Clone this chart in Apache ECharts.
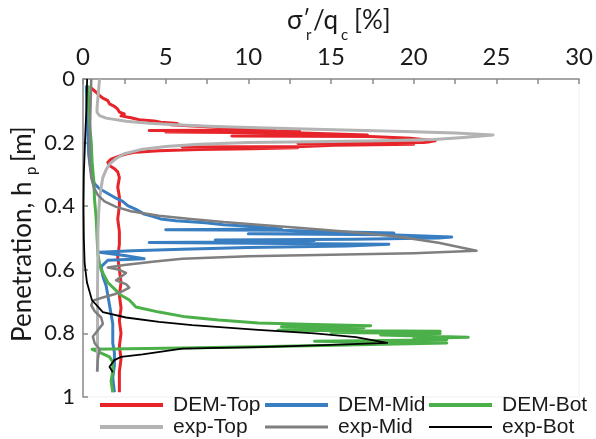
<!DOCTYPE html>
<html>
<head>
<meta charset="utf-8">
<script src="https://cdn.jsdelivr.net/npm/echarts@6/dist/echarts.min.js"></script>
<style>
  html, body { margin: 0; padding: 0; background: #ffffff; }
  #chart { width: 596px; height: 439px; }
</style>
</head>
<body>
<div id="chart"></div>
<script>
// Radial stress ratio profiles along penetration depth.
// Each point: [sigma_r' / q_c in %, penetration h_p in m]
const demTop = [
  [0.42,0.024],[0.6,0.033],[0.8,0.042],[1.0,0.052],[1.2,0.06],[1.5,0.068],[1.6,0.078],[1.9,0.086],
  [2.1,0.095],[2.2,0.104],[2.5,0.11],[2.3,0.116],[2.9,0.122],[3.4,0.128],[4.3,0.132],[4.7,0.136],
  [5.7,0.14],[5.3,0.144],[6.6,0.148],[8.2,0.152],[10.7,0.156],[11.6,0.16],[4.0,0.162],[13.1,0.164],
  [5.0,0.167],[13.3,0.17],[17.2,0.176],[9.0,0.179],[17.4,0.181],[19.8,0.186],[21.3,0.194],[21.0,0.197],
  [20.6,0.2],[13.0,0.203],[20.0,0.205],[15.2,0.208],[13.3,0.212],[6.0,0.214],[13.0,0.216],[10.2,0.219],
  [7.0,0.222],[4.6,0.226],[3.2,0.23],[2.6,0.236],[2.1,0.244],[1.7,0.252],
  [1.5,0.262],[1.6,0.272],[1.9,0.282],[2.1,0.292],[2.2,0.31],[2.1,0.34],[2.2,0.37],[2.2,0.4],
  [2.1,0.44],[2.2,0.48],[2.2,0.52],[2.1,0.56],[2.2,0.6],[2.3,0.64],[2.2,0.68],[2.3,0.72],
  [2.2,0.76],[2.3,0.8],[2.2,0.84],[2.3,0.88],[2.2,0.92],[2.2,0.96],[2.2,0.985]
];
const demMid = [
  [0.2,0.02],[0.25,0.1],[0.3,0.18],[0.35,0.24],[0.45,0.28],[0.55,0.31],[0.7,0.33],[1.0,0.345],
  [1.5,0.36],[1.9,0.372],[2.4,0.385],[2.7,0.398],[3.2,0.41],[3.7,0.425],[4.2,0.432],[4.7,0.44],
  [5.6,0.446],[7.4,0.452],[8.5,0.458],[10.6,0.465],[12.0,0.472],[5.0,0.474],[12.0,0.476],[15.0,0.48],
  [18.8,0.484],[10.0,0.487],[18.5,0.49],[22.3,0.497],[21.5,0.5],[16.4,0.504],[8.0,0.506],[14.0,0.508],
  [12.0,0.512],[4.0,0.514],[18.5,0.52],[16.0,0.525],[10.0,0.53],[6.0,0.535],[3.0,0.54],[1.0,0.545],
  [0.9,0.55],[2.5,0.555],[3.7,0.565],[1.5,0.57],
  [1.1,0.59],[1.2,0.62],[1.4,0.65],[1.5,0.68],[1.6,0.71],[1.7,0.74],[1.8,0.77],[1.8,0.8],
  [1.8,0.83],[1.9,0.86],[1.9,0.9],[1.8,0.94],[1.9,0.985]
];
const demBot = [
  [0.3,0.02],[0.35,0.08],[0.4,0.14],[0.5,0.2],[0.55,0.26],[0.65,0.32],[0.7,0.38],[0.8,0.44],
  [0.85,0.5],[0.9,0.55],[1.0,0.58],[1.1,0.6],[1.3,0.62],[1.5,0.64],[1.9,0.66],[2.3,0.68],
  [2.8,0.695],[3.2,0.717],[4.6,0.733],[6.2,0.748],[8.2,0.758],[10.6,0.767],[14.0,0.772],[17.4,0.776],
  [12.0,0.779],[17.0,0.782],[11.8,0.79],[21.6,0.793],[15.0,0.797],[21.6,0.8],[18.0,0.805],[23.3,0.812],
  [20.0,0.816],[22.0,0.82],[14.0,0.825],[22.0,0.83],[10.6,0.842],[6.0,0.846],[0.55,0.85],[1.0,0.86],
  [1.6,0.874],[1.8,0.89],[1.8,0.92],[1.7,0.95],[1.8,0.985]
];
const expTop = [
  [1.0,0.0],[0.95,0.03],[0.9,0.06],[0.85,0.09],[0.85,0.105],[1.0,0.115],[1.4,0.123],[2.6,0.133],
  [4.0,0.139],[5.6,0.144],[8.0,0.149],[10.6,0.153],[14.0,0.158],[17.0,0.162],[20.0,0.166],[22.5,0.17],
  [24.8,0.176],[23.0,0.184],[21.2,0.19],[18.0,0.194],[14.0,0.197],[10.0,0.2],[7.0,0.205],[5.0,0.212],
  [3.5,0.222],[2.5,0.235],[2.0,0.25],[1.6,0.268],[1.4,0.285],[1.2,0.31],[1.1,0.34],[1.0,0.38],
  [0.95,0.42],[0.9,0.48],[0.9,0.55],[0.88,0.65],[0.88,0.75],[0.88,0.85],[0.88,0.92]
];
const expMid = [
  [0.5,0.0],[0.45,0.1],[0.4,0.2],[0.42,0.27],[0.5,0.31],[0.65,0.34],[0.9,0.365],[1.3,0.385],
  [2.0,0.402],[2.9,0.416],[4.6,0.43],[6.5,0.44],[8.5,0.45],[10.6,0.458],[13.0,0.468],[16.0,0.48],
  [19.0,0.495],[21.5,0.515],[23.8,0.54],[20.0,0.548],[15.0,0.553],[10.0,0.557],[6.0,0.565],[4.2,0.575],
  [2.5,0.585],[1.5,0.593],[2.2,0.6],[2.6,0.61],[2.3,0.622],[2.0,0.633],[2.6,0.645],[2.8,0.656],
  [2.4,0.667],[1.9,0.677],[1.2,0.687],[0.6,0.697],[0.5,0.712],[0.7,0.73],[1.1,0.75],[1.2,0.77],
  [0.9,0.79],[0.6,0.81],[0.7,0.83],[1.0,0.85],[0.9,0.88],[0.85,0.92]
];
const expBot = [
  [0.25,0.0],[0.2,0.1],[0.12,0.2],[0.05,0.3],[0.03,0.4],[0.05,0.5],[0.1,0.58],[0.24,0.64],
  [0.54,0.695],[1.2,0.733],[2.6,0.75],[4.6,0.764],[6.6,0.774],[10.6,0.789],[14.0,0.8],[16.5,0.812],
  [18.4,0.83],[15.0,0.836],[10.6,0.843],[6.0,0.848],[3.6,0.866],[2.3,0.874],[1.9,0.884],[1.6,0.905],
  [1.8,0.922]
];

const seriesNames = ['DEM-Top', 'DEM-Mid', 'DEM-Bot', 'exp-Top', 'exp-Mid', 'exp-Bot'];
const seriesData = [demTop, demMid, demBot, expTop, expMid, expBot];
const seriesColors = ['#e8242b', '#3a7ec2', '#4cb04a', '#b3b3b3', '#7f7f7f', '#000000'];
const seriesWidths = [3, 3, 3, 3, 2.5, 1.8];

// axis ranges: ratio on top (0-30 %), depth downward (0-1 m)
const ratioRange = [0, 30, 5];
const depthRange = [0, 1, 0.2];

const axisGrey = '#8a8a8a';
const chart = echarts.init(document.getElementById('chart'), null, { renderer: 'canvas' });

const series = seriesNames.map((name, i) => ({
  name,
  type: 'line',
  data: seriesData[i],
  showSymbol: false,
  symbol: 'none',
  clip: true,
  animation: false,
  lineStyle: { color: seriesColors[i], width: seriesWidths[i], join: 'round' },
  itemStyle: { color: seriesColors[i] },
  z: 2 + i
}));

// legend: two rows of three, one legend box per entry so each swatch keeps its own thickness
const legendLefts = [100, 265, 429];
const legendRows = [394, 416];
const swatchHeights = [4, 4, 4, 4, 3, 2];
const legends = seriesNames.map((name, i) => ({
  left: legendLefts[i % 3],
  top: legendRows[Math.floor(i / 3)],
  padding: 0,
  itemWidth: 63,
  itemHeight: swatchHeights[i],
  icon: 'rect',
  selectedMode: false,
  textStyle: { fontFamily: 'Liberation Sans', fontSize: 21, lineHeight: 22, color: '#1a1a1a', padding: [0, 0, 0, 5] },
  data: [{ name }]
}));

const labelFont = 'Lato';
chart.setOption({
  animation: false,
  backgroundColor: '#ffffff',
  grid: {
    left: 83, top: 79, width: 500, height: 318,
    show: true, borderColor: '#efefef', borderWidth: 1, backgroundColor: 'transparent'
  },
  legend: legends,
  xAxis: {
    type: 'value', position: 'top',
    min: ratioRange[0], max: ratioRange[1], interval: ratioRange[2],
    axisLine: { show: true, lineStyle: { color: axisGrey, width: 1.5 } },
    axisTick: { show: true, inside: true, length: 5, lineStyle: { color: axisGrey, width: 1.5 } },
    minorTick: { show: true, splitNumber: 2, length: 5, lineStyle: { color: axisGrey, width: 1.5 } },
    splitLine: { show: false },
    axisLabel: { fontFamily: labelFont, fontSize: 24, color: '#1a1a1a', margin: 10 }
  },
  yAxis: {
    type: 'value', inverse: true,
    min: depthRange[0], max: depthRange[1], interval: depthRange[2],
    axisLine: { show: true, lineStyle: { color: axisGrey, width: 1.5 } },
    axisTick: { show: true, inside: true, length: 5, lineStyle: { color: axisGrey, width: 1.5 } },
    splitLine: { show: false },
    axisLabel: { fontFamily: labelFont, fontSize: 22, color: '#1a1a1a', margin: 8 }
  },
  graphic: [
    // top axis title: sigma'_r / q_c [%]
    { type: 'text', left: 287, top: 8, style: { text: 'σ', font: '26px Lato', fill: '#1a1a1a' } },
    { type: 'text', left: 303, top: 7, style: { text: '′', font: '22px Lato', fill: '#1a1a1a' } },
    { type: 'text', left: 306, top: 28, style: { text: 'r', font: '15px Lato', fill: '#1a1a1a' } },
    { type: 'text', left: 313, top: 8, style: { text: '/q', font: '26px Lato', fill: '#1a1a1a' } },
    { type: 'text', left: 341, top: 28, style: { text: 'c', font: '15px Lato', fill: '#1a1a1a' } },
    { type: 'text', left: 354, top: 8, style: { text: '[%]', font: '26px Lato', fill: '#1a1a1a' } },
    // left axis title: Penetration, h_p [m]
    {
      type: 'group', x: 10, y: 342, rotation: Math.PI / 2,
      children: [
        { type: 'text', x: 0, y: 0, style: { text: 'Penetration, h', font: '26px Lato', fill: '#1a1a1a', verticalAlign: 'top' } },
        { type: 'text', x: 167, y: 14, style: { text: 'p', font: '15px Lato', fill: '#1a1a1a', verticalAlign: 'top' } },
        { type: 'text', x: 180, y: 0, style: { text: '[m]', font: '26px Lato', fill: '#1a1a1a', verticalAlign: 'top' } }
      ]
    }
  ],
  series
});
</script>
</body>
</html>
